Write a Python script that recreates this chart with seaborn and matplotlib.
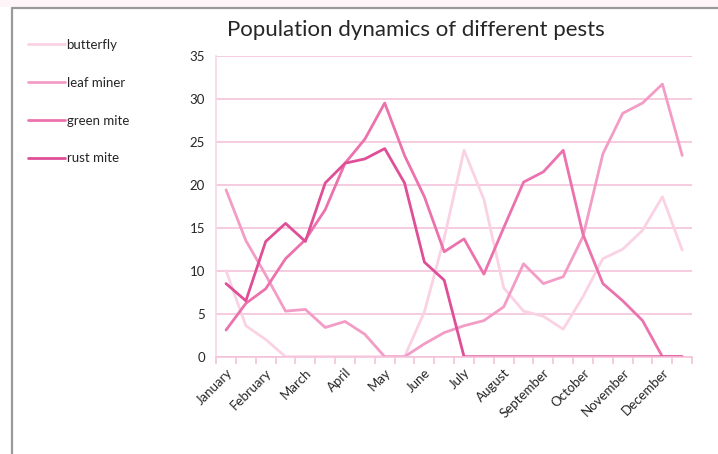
import pandas as pd
import numpy as np
import seaborn as sns
import matplotlib.pyplot as plt
from matplotlib.lines import Line2D
from matplotlib.patches import Rectangle

# two readings per month (first half / second half)
months = ['January', 'February', 'March', 'April', 'May', 'June',
          'July', 'August', 'September', 'October', 'November', 'December']

butterfly = [10.0, 3.6, 2.0, 0, 0, 0, 0, 0, 0, 0, 5.2, 13.8,
             24.0, 18.3, 8.0, 5.3, 4.7, 3.2, 7.0, 11.4, 12.5, 14.7, 18.6, 12.4]
leaf_miner = [19.4, 13.5, 9.5, 5.3, 5.5, 3.4, 4.1, 2.6, 0, 0, 1.5, 2.8,
              3.6, 4.2, 5.8, 10.8, 8.5, 9.3, 14.0, 23.6, 28.3, 29.5, 31.7, 23.4]
green_mite = [3.1, 6.2, 7.9, 11.4, 13.6, 17.1, 22.5, 25.3, 29.5, 23.4, 18.6, 12.2,
              13.7, 9.6, 15.0, 20.3, 21.5, 24.0, 14.2, 8.5, 6.5, 4.2, 0, 0]
rust_mite = [8.5, 6.5, 13.4, 15.5, 13.4, 20.2, 22.5, 23.0, 24.2, 20.2, 11.0, 8.9,
             0, 0, 0, 0, 0, 0, 0, 0, 0, 0, 0, 0]

pests = ['butterfly', 'leaf miner', 'green mite', 'rust mite']
colors = ['#fad2e4', '#f39cc6', '#ec72ae', '#df4f98']

rows = []
for name, vals in zip(pests, [butterfly, leaf_miner, green_mite, rust_mite]):
    for i, v in enumerate(vals):
        rows.append({'idx': i, 'value': v, 'pest': name})
df = pd.DataFrame(rows)

sns.set_style('white')
plt.rcParams['font.family'] = ['Lato', 'DejaVu Sans']

fig = plt.figure(figsize=(7.18, 4.54), dpi=100)
ax = fig.add_axes([0.301, 0.2143, 0.663, 0.663])

sns.lineplot(data=df, x='idx', y='value', hue='pest', palette=colors,
             hue_order=pests, linewidth=2.0, ax=ax, legend=False)

ax.set_xlim(-0.5, len(butterfly) - 0.5)
ax.set_ylim(0, 35)
ax.set_yticks(range(0, 36, 5))
ax.yaxis.grid(True, color='#f5c3da', linewidth=1.2)
ax.set_axisbelow(True)

ax.set_xticks(np.arange(0, len(butterfly), 2))
ax.set_xticklabels(months, rotation=45, ha='right', rotation_mode='anchor', fontsize=9.5)
ax.set_xticks(np.arange(-0.5, len(butterfly), 1), minor=True)
ax.tick_params(axis='x', which='major', length=0, pad=7)
ax.tick_params(axis='x', which='minor', length=5, color='#f5c3da', width=1.2, direction='out')
ax.tick_params(axis='y', length=0, labelsize=9.5, pad=8)
ax.xaxis.set_ticks_position('bottom')

for s in ['top', 'right']:
    ax.spines[s].set_visible(False)
ax.spines['left'].set_color('#f8d6e6')
ax.spines['left'].set_linewidth(1.2)
ax.spines['bottom'].set_color('#f5c3da')
ax.spines['bottom'].set_linewidth(1.2)
ax.set_xlabel('')
ax.set_ylabel('')

fig.text(0.579, 0.934, 'Population dynamics of different pests', ha='center', va='center', fontsize=16)

handles = [Line2D([], [], color=c, linewidth=2.0) for c in colors]
fig.legend(handles, pests, loc='upper left', bbox_to_anchor=(0.022, 0.94), frameon=False,
           fontsize=9.5, handlelength=2.8, handletextpad=0.15, labelspacing=1.95)

# frame of the original screenshot
fig.patches.append(Rectangle((0, 1 - 7 / 454), 1, 7 / 454, transform=fig.transFigure,
                             facecolor='#fdf5f7', edgecolor='none'))
fig.lines.append(Line2D([12 / 718, 1], [1 - 8 / 454, 1 - 8 / 454], transform=fig.transFigure,
                        color='#9a9a9a', linewidth=1.6))
fig.lines.append(Line2D([12 / 718, 12 / 718], [0, 1 - 8 / 454], transform=fig.transFigure,
                        color='#9a9a9a', linewidth=1.6))

plt.savefig('out.png')
